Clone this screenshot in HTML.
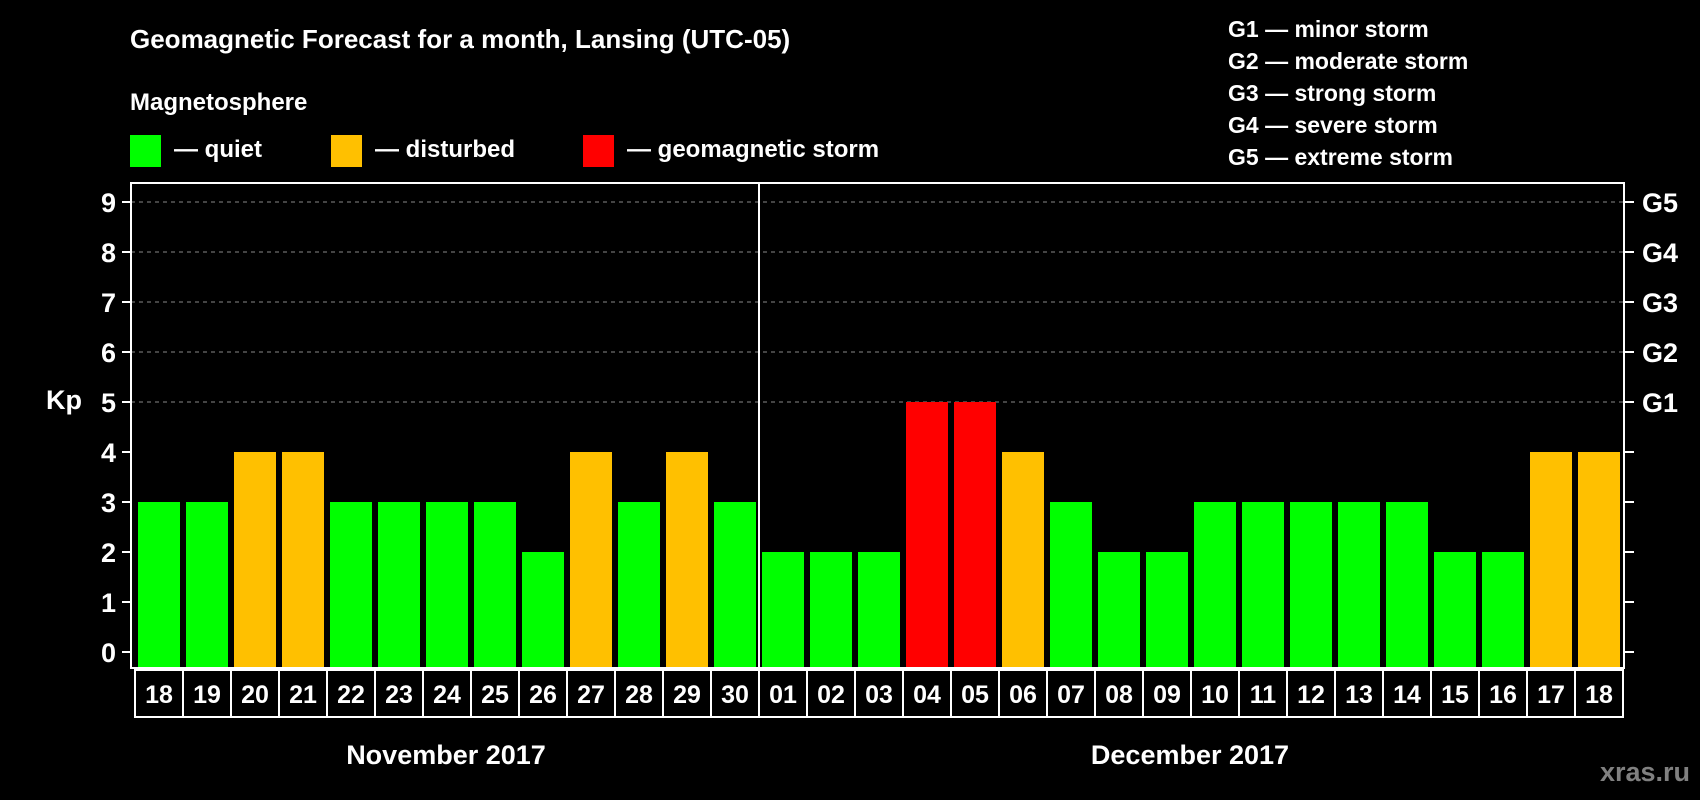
<!DOCTYPE html>
<html><head><meta charset="utf-8"><style>
html,body{margin:0;padding:0;background:#000;}
svg{display:block;font-family:"Liberation Sans",sans-serif;font-weight:bold;}
</style></head><body>
<svg id="chart" width="1700" height="800" viewBox="0 0 1700 800">
<rect x="0" y="0" width="1700" height="800" fill="#000"/>
<text x="130" y="48" fill="#fff" font-size="26">Geomagnetic Forecast for a month, Lansing (UTC-05)</text>
<text x="130" y="110" fill="#fff" font-size="24">Magnetosphere</text>
<g><rect x="130" y="135" width="31" height="32" fill="#00ff00"/><text x="174" y="157" fill="#fff" font-size="24">— quiet</text></g>
<g><rect x="331" y="135" width="31" height="32" fill="#ffc000"/><text x="375" y="157" fill="#fff" font-size="24">— disturbed</text></g>
<g><rect x="583" y="135" width="31" height="32" fill="#ff0000"/><text x="627" y="157" fill="#fff" font-size="24">— geomagnetic storm</text></g>
<g fill="#fff" font-size="23">
<text x="1228" y="37">G1 — minor storm</text>
<text x="1228" y="69">G2 — moderate storm</text>
<text x="1228" y="101">G3 — strong storm</text>
<text x="1228" y="133">G4 — severe storm</text>
<text x="1228" y="165">G5 — extreme storm</text>
</g>
<text x="64" y="409" fill="#fff" font-size="27" text-anchor="middle">Kp</text>
<g id="grid"></g>
<g id="bars"></g>
<g id="axes"></g>
<text x="446" y="764" fill="#fff" font-size="27" text-anchor="middle">November 2017</text>
<text x="1190" y="764" fill="#fff" font-size="27" text-anchor="middle">December 2017</text>
<text x="1690" y="781" fill="#808080" font-size="27" text-anchor="end">xras.ru</text>
</svg>
<script>
const days = ["18","19","20","21","22","23","24","25","26","27","28","29","30","01","02","03","04","05","06","07","08","09","10","11","12","13","14","15","16","17","18"];
const kpValues = [3,3,4,4,3,3,3,3,2,4,3,4,3,2,2,2,5,5,4,3,2,2,3,3,3,3,3,2,2,4,4];
const yTicks = [0,1,2,3,4,5,6,7,8,9];
const stormLabels = ["","","","","","G1","G2","G3","G4","G5"];
const monthSplit = 13;

const NS = "http://www.w3.org/2000/svg";
const plotL = 131, plotR = 1624, plotT = 183, plotB = 668;
const cellL = 135, cellW = 48;
function y(v){ return 652 - v * 50; }
function x(i){ return cellL + i * cellW; }
function mk(tag, attrs, parent){
  const e = document.createElementNS(NS, tag);
  for (const k in attrs) e.setAttribute(k, attrs[k]);
  parent.appendChild(e); return e;
}
const grid = document.getElementById("grid");
const bars = document.getElementById("bars");
const axes = document.getElementById("axes");

yTicks.forEach((t, i) => {
  if (t >= 5) {
    const g = mk("line", {x1: plotL, x2: plotR, y1: y(t), y2: y(t), stroke: "#888", "stroke-width": 1, "stroke-dasharray": "4,4"}, grid);
    
    
  }
  const tl = mk("line", {x1: 122, x2: plotL, y1: y(t), y2: y(t), stroke: "#fff", "stroke-width": 2}, axes);
  
  
  const tr = mk("line", {x1: plotR, x2: 1634, y1: y(t), y2: y(t), stroke: "#fff", "stroke-width": 2}, axes);
  
  
  const lab = mk("text", {x: 116, y: y(t) + 10, fill: "#fff", "font-size": 27, "text-anchor": "end"}, axes);
  lab.textContent = t;
  
  
  if (stormLabels[i]) {
    const sl = mk("text", {x: 1642, y: y(t) + 10, fill: "#fff", "font-size": 27}, axes);
    sl.textContent = stormLabels[i];
    
    
  }
});

kpValues.forEach((v, i) => {
  const color = v >= 5 ? "#ff0000" : (v >= 4 ? "#ffc000" : "#00ff00");
  const b = mk("rect", {x: x(i) + 3, y: y(v), width: 42, height: plotB - y(v), fill: color}, bars);
  
  
  const c = mk("rect", {x: x(i), y: 670, width: cellW, height: 47, fill: "#000", stroke: "#fff", "stroke-width": 2}, axes);
  
  
  const t = mk("text", {x: x(i) + cellW / 2, y: 703, fill: "#fff", "font-size": 25, "text-anchor": "middle"}, axes);
  t.textContent = days[i];
  
  
});

const frame = mk("rect", {x: plotL, y: plotT, width: plotR - plotL, height: plotB - plotT, fill: "none", stroke: "#fff", "stroke-width": 2}, axes);


const div = mk("line", {x1: x(monthSplit), x2: x(monthSplit), y1: plotT, y2: plotB, stroke: "#fff", "stroke-width": 2}, axes);


</script>
</body></html>
